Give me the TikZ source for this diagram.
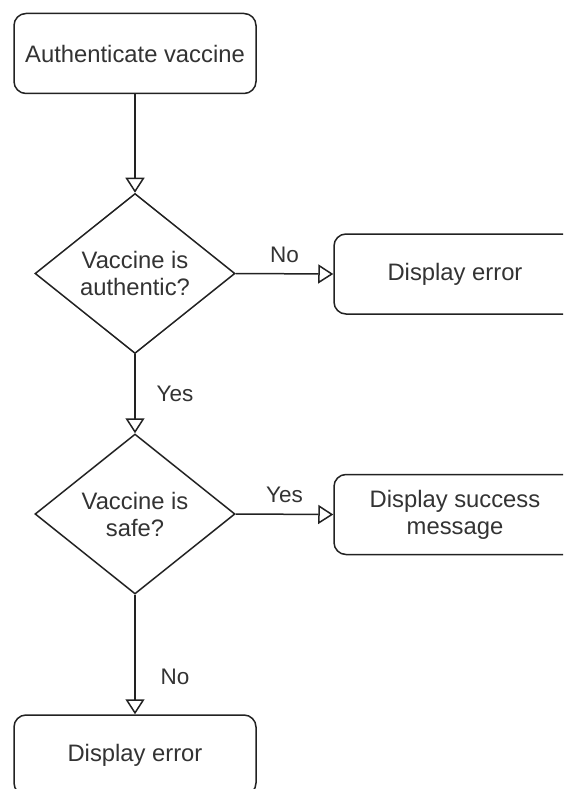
\documentclass[tikz,border=0pt]{standalone}
\usepackage{fontspec}
\setmainfont{Liberation Sans}
\usetikzlibrary{shapes.geometric,arrows.meta}
\definecolor{txt}{HTML}{333333}
\definecolor{ln}{HTML}{222222}
\tikzset{
  box/.style={draw=ln, line width=1.5pt, rectangle, rounded corners=12pt, minimum width=242pt, minimum height=80pt, inner sep=0pt, align=center, text=txt, font=\fontsize{23.8}{27}\selectfont},
  dec/.style={draw=ln, line width=1.5pt, diamond, minimum width=200pt, minimum height=160pt, inner sep=0pt, align=center, text=txt, font=\fontsize{23.8}{27}\selectfont},
  arr/.style={draw=ln, line width=1.5pt, -{Triangle[open, length=15pt, width=19pt, line width=1.5pt]}},
  lbl/.style={text=txt, font=\fontsize{22.5}{26}\selectfont, inner sep=0pt},
}
\begin{document}
\begin{tikzpicture}[x=1pt, y=-1pt]
\useasboundingbox (0,0) rectangle (563,789);
\clip (0,0) rectangle (563,789);
\fill[white] (0,0) rectangle (563,789);
\node[box] (auth) at (135,53.5) {Authenticate vaccine};
\node[dec] (d1) at (135,273.5) {Vaccine is\\authentic?};
\node[box] (err1) at (455,274) {Display error};
\node[dec] (d2) at (135,514) {Vaccine is\\safe?};
\node[box] (succ) at (455,514.5) {Display success\\message};
\node[box] (err2) at (135,755) {Display error};
\draw[arr] (auth) -- (d1);
\draw[arr] (d1.east) -- (err1.west) node[lbl, midway, yshift=19pt] {No};
\draw[arr] (d1.south) -- (d2.north) node[lbl, midway, xshift=40pt] {Yes};
\draw[arr] (d2.east) -- (succ.west) node[lbl, midway, yshift=19pt] {Yes};
\draw[arr] (d2.south) -- (err2.north) node[lbl, pos=0.69, xshift=40pt] {No};
\end{tikzpicture}
\end{document}
